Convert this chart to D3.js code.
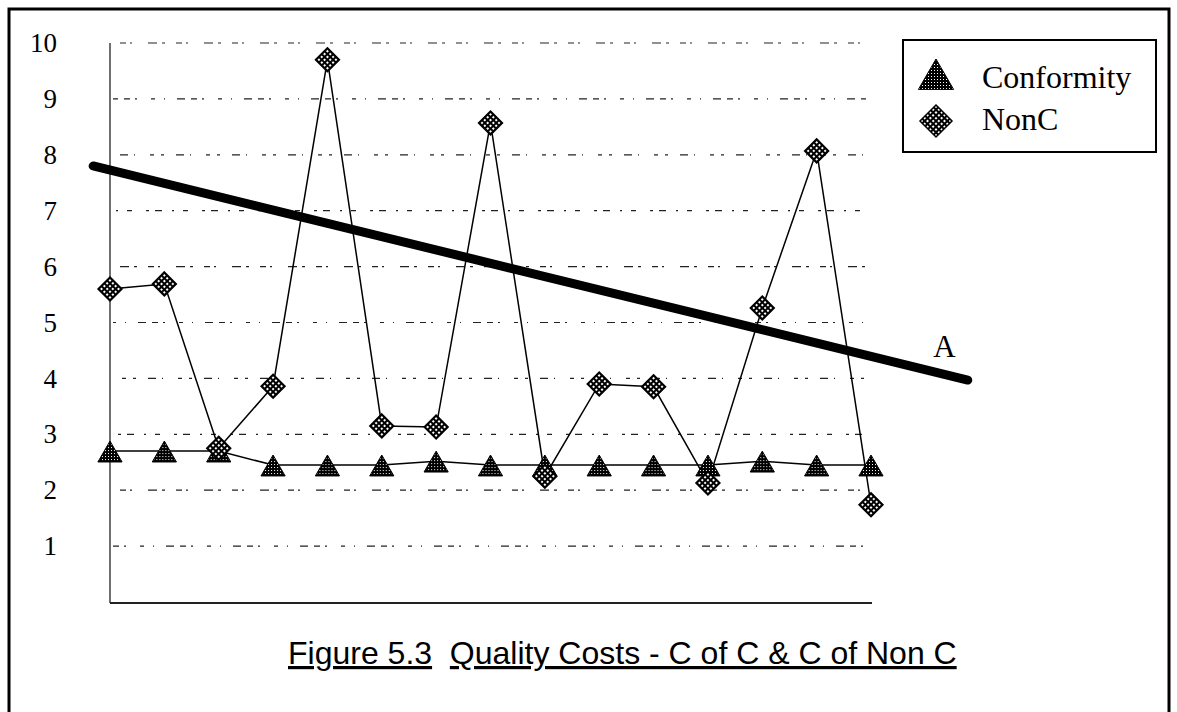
<!DOCTYPE html>
<html>
<head>
<meta charset="utf-8">
<script src="https://cdn.jsdelivr.net/npm/d3@7"></script>
<style>
  html, body { margin: 0; padding: 0; background: #fff; }
  svg { display: block; }
</style>
</head>
<body>
<div id="chart"></div>
<script>
// ---------- data ----------
const periods = [1,2,3,4,5,6,7,8,9,10,11,12,13,14,15];
const conformity = [2.70,2.70,2.70,2.45,2.45,2.45,2.52,2.45,2.45,2.45,2.45,2.45,2.52,2.45,2.45];
const nonC       = [5.60,5.69,2.75,3.86,9.70,3.15,3.13,8.57,2.25,3.90,3.85,2.13,5.26,8.07,1.74];
const yTicks = [1,2,3,4,5,6,7,8,9,10];
const trendX = [0.69, 16.78];   // period positions of trend line "A" end points
const trendY = [7.80, 3.97];
const trendLabel = "A";
const seriesNames = ["Conformity", "NonC"];
const caption1 = "Figure 5.3";
const caption2 = "Quality Costs - C of C & C of Non C";

// ---------- setup ----------
const W = 1177, H = 712;
const svg = d3.select("#chart").append("svg").attr("width", W).attr("height", H);
const defs = svg.append("defs");

// dotted fill patterns (black with white dots)
const pt = defs.append("pattern").attr("id","dotsTri").attr("patternUnits","userSpaceOnUse")
  .attr("width",3).attr("height",3);
pt.append("rect").attr("width",3).attr("height",3).attr("fill","#000");
pt.append("rect").attr("x",1).attr("y",1).attr("width",1).attr("height",1).attr("fill","#fff");

const pd = defs.append("pattern").attr("id","dotsDia").attr("patternUnits","userSpaceOnUse")
  .attr("width",4).attr("height",4).attr("patternTransform","rotate(45)");
pd.append("rect").attr("width",4).attr("height",4).attr("fill","#000");
pd.append("rect").attr("x",1).attr("y",1).attr("width",2).attr("height",2).attr("fill","#fff");

const x = d3.scaleLinear().domain([1,15]).range([110,871]);
const y = d3.scaleLinear().domain([0,10]).range([602,43]);

// outer frame
svg.append("rect").attr("x",9).attr("y",9).attr("width",1160).attr("height",760)
  .attr("fill","none").attr("stroke","#000").attr("stroke-width",3);

// gridlines (broken dotted scan look)
const dashes = ["6,5,2,14,4,9,1,12,8,6","3,11,6,4,2,16,9,5","5,14,3,6,7,10,2,9","8,6,1,15,4,7,3,12"];
svg.append("g").selectAll("line").data(yTicks).join("line")
  .attr("x1",113).attr("x2",866)
  .attr("y1",d=>y(d)).attr("y2",d=>y(d))
  .attr("stroke","#222").attr("stroke-width",1.2)
  .attr("stroke-dasharray",(d,i)=>dashes[i%dashes.length])
  .attr("stroke-dashoffset",(d,i)=>i*7);

// axes lines
svg.append("line").attr("x1",x(1)).attr("x2",x(1)).attr("y1",y(10)).attr("y2",y(0)+1)
  .attr("stroke","#222").attr("stroke-width",1.3);
svg.append("line").attr("x1",x(1)).attr("x2",x(15)+1).attr("y1",y(0)+1).attr("y2",y(0)+1)
  .attr("stroke","#222").attr("stroke-width",2);

// y tick labels
const yAxis = d3.axisLeft(y).tickValues(yTicks).tickSize(0).tickPadding(0).tickFormat(d3.format("d"));
const ga = svg.append("g").attr("transform","translate(57,0)").call(yAxis);
ga.select(".domain").remove();
ga.selectAll("text").attr("font-family","'Liberation Serif','Times New Roman',serif")
  .attr("font-size",27).attr("fill","#000");

// series lines
const line = d3.line().x((d,i)=>x(periods[i])).y(d=>y(d));
svg.append("path").datum(conformity).attr("d",line).attr("fill","none")
  .attr("stroke","#000").attr("stroke-width",1.5);
svg.append("path").datum(nonC).attr("d",line).attr("fill","none")
  .attr("stroke","#000").attr("stroke-width",1.5);

// markers
const tri = (s)=>`M0,${-s*0.5} L${s*0.55},${s*0.45} L${-s*0.55},${s*0.45} Z`;
const dia = (s)=>`M0,${-s/2} L${s/2},0 L0,${s/2} L${-s/2},0 Z`;
svg.append("g").selectAll("path").data(conformity).join("path")
  .attr("transform",(d,i)=>`translate(${x(periods[i])},${y(d)+1})`)
  .attr("d",tri(22)).attr("fill","url(#dotsTri)").attr("stroke","#000").attr("stroke-width",1);
svg.append("g").selectAll("path").data(nonC).join("path")
  .attr("transform",(d,i)=>`translate(${x(periods[i])},${y(d)})`)
  .attr("d",dia(24)).attr("fill","url(#dotsDia)").attr("stroke","#000").attr("stroke-width",1.5);

// trend line A
svg.append("line").attr("x1",x(trendX[0])).attr("y1",y(trendY[0]))
  .attr("x2",x(trendX[1])).attr("y2",y(trendY[1]))
  .attr("stroke","#000").attr("stroke-width",9).attr("stroke-linecap","round");
svg.append("text").attr("x",x(16.35)).attr("y",y(4.4)+1).attr("text-anchor","middle")
  .attr("font-family","'Liberation Serif','Times New Roman',serif").attr("font-size",31)
  .text(trendLabel);

// legend
svg.append("rect").attr("x",903).attr("y",40).attr("width",253).attr("height",112)
  .attr("fill","#fff").attr("stroke","#000").attr("stroke-width",2);
const lg = svg.append("g");
lg.append("path").attr("transform","translate(936,75)").attr("d",tri(32))
  .attr("fill","url(#dotsTri)").attr("stroke","#000").attr("stroke-width",1);
lg.append("path").attr("transform","translate(936,121)").attr("d",dia(32))
  .attr("fill","url(#dotsDia)").attr("stroke","#000").attr("stroke-width",1.5);
lg.selectAll("text").data(seriesNames).join("text")
  .attr("x",982).attr("y",(d,i)=>i===0?88:130)
  .attr("font-family","'Liberation Serif','Times New Roman',serif").attr("font-size",32)
  .text(d=>d);

// caption
const cap = svg.append("text").attr("x",288).attr("y",664)
  .attr("font-family","'Liberation Sans',Arial,sans-serif").attr("font-size",32).attr("fill","#000");
cap.append("tspan").attr("text-decoration","underline").text(caption1);
cap.append("tspan").text("\u00a0\u00a0");
cap.append("tspan").attr("text-decoration","underline").text(caption2);
</script>
</body>
</html>
